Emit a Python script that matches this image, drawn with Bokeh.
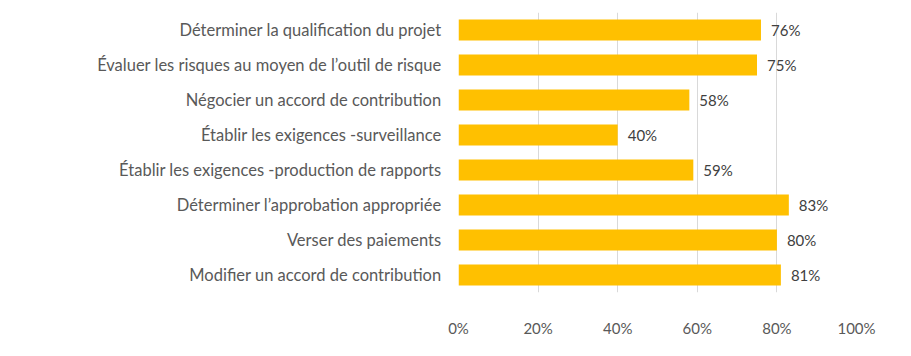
from bokeh.plotting import figure
from bokeh.models import ColumnDataSource, FactorRange, Range1d, NumeralTickFormatter, FixedTicker
from bokeh.core.properties import value
from bokeh.embed import file_html
from bokeh.resources import INLINE

categories = [
    "Déterminer la qualification du projet",
    "Évaluer les risques au moyen de l\u2019outil de risque",
    "Négocier un accord de contribution",
    "Établir les exigences -surveillance",
    "Établir les exigences -production de rapports",
    "Déterminer l\u2019approbation appropriée",
    "Verser des paiements",
    "Modifier un accord de contribution",
]
values = [0.76, 0.75, 0.58, 0.40, 0.59, 0.83, 0.80, 0.81]
x_ticks = [0, 0.2, 0.4, 0.6, 0.8, 1.0]

labels = [f"{round(v*100)}%" for v in values]
src = ColumnDataSource(dict(cat=categories, val=values, lab=labels))

FONT = "Lato"
p = figure(
    width=911, height=356,
    y_range=FactorRange(factors=list(reversed(categories))),
    x_range=Range1d(0, 1),
    output_backend="svg", toolbar_location=None,
    frame_width=398, frame_height=280,
    min_border_left=458, min_border_right=55, min_border_top=12, min_border_bottom=64,
)
p.width = None
p.height = None
p.outline_line_color = None
p.background_fill_color = "white"
p.border_fill_color = "white"

p.hbar(y="cat", right="val", left=0, height=0.6, source=src, color="#FFC000", line_color=None)
p.text(x="val", y="cat", text="lab", source=src, x_offset=10,
       text_baseline="middle", text_align="left",
       text_font=value(FONT), text_font_size="15px", text_color="#404040")

p.xaxis.ticker = FixedTicker(ticks=x_ticks)
p.xaxis.formatter = NumeralTickFormatter(format="0%")
p.xaxis.axis_line_color = None
p.xaxis.major_tick_line_color = None
p.xaxis.minor_tick_line_color = None
p.xaxis.major_label_standoff = 20
p.xaxis.major_label_text_font = FONT
p.xaxis.major_label_text_font_size = "15px"
p.xaxis.major_label_text_color = "#595959"

p.yaxis.axis_line_color = None
p.yaxis.major_tick_line_color = None
p.yaxis.minor_tick_line_color = None
p.yaxis.major_label_standoff = 11
p.yaxis.major_label_text_font = FONT
p.yaxis.major_label_text_font_size = "16.5px"
p.yaxis.major_label_text_color = "#595959"

p.xgrid.grid_line_color = "#D9D9D9"
p.ygrid.grid_line_color = None

open("out.html", "w").write(file_html(p, INLINE))
